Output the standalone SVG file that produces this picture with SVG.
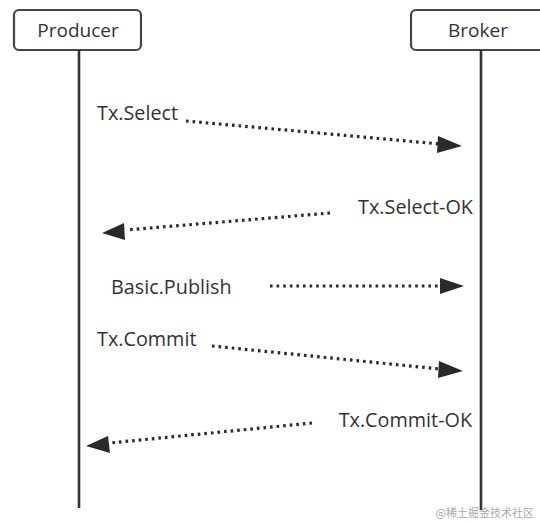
<svg xmlns="http://www.w3.org/2000/svg" width="540" height="522" viewBox="0 0 540 522">
<style>
.box{fill:#fff;stroke:#444;stroke-width:2.2}
.life{stroke:#333;stroke-width:2.6;fill:none}
.msg{stroke:#2a2a2a;stroke-width:3.2;fill:none;stroke-dasharray:2.6 4;}
.lbl{font-family:"Open Sans","Noto Sans",sans-serif;font-size:19.8px;fill:#333}
.head{fill:#2a2a2a}
</style>
<rect width="540" height="522" fill="#fff"/>
<g id="producer">
<rect class="box" x="14" y="10" width="127" height="40" rx="5"/>
<text class="lbl" x="78" y="37" text-anchor="middle" style="font-size:19px">Producer</text>
<line class="life" x1="79" y1="50" x2="79" y2="508"/>
</g>
<g id="broker">
<rect class="box" x="411" y="10" width="140" height="40" rx="5"/>
<text class="lbl" x="478" y="37" text-anchor="middle" style="font-size:19px">Broker</text>
<line class="life" x1="481" y1="50" x2="481" y2="510"/>
</g>
<g id="connectors">
<path class="msg" d="M186,121 L440,144"/>
<path class="head" d="M462,146 L438,136 L437,153 Z"/>
<path class="msg" d="M330,213 L126,230"/>
<path class="head" d="M102,233 L124,223 L125,240 Z"/>
<path class="msg" d="M270,286 L440,286"/>
<path class="head" d="M464,286 L440,278 L440,294 Z"/>
<path class="msg" d="M212,346 L440,369"/>
<path class="head" d="M463,371 L439,361 L438,378 Z"/>
<path class="msg" d="M312,423 L110,443"/>
<path class="head" d="M86,446 L108,436 L110,453 Z"/>
</g>
<g id="labels">
<text class="lbl" x="97" y="120">Tx.Select</text>
<text class="lbl" x="473" y="214" text-anchor="end">Tx.Select-OK</text>
<text class="lbl" x="111" y="294">Basic.Publish</text>
<text class="lbl" x="97" y="346">Tx.Commit</text>
<text class="lbl" x="472" y="427" text-anchor="end">Tx.Commit-OK</text>
</g>
<text x="534" y="517" text-anchor="end" font-family="'Noto Sans CJK SC',sans-serif" font-size="11" fill="#aaa">@稀土掘金技术社区</text>
</svg>
